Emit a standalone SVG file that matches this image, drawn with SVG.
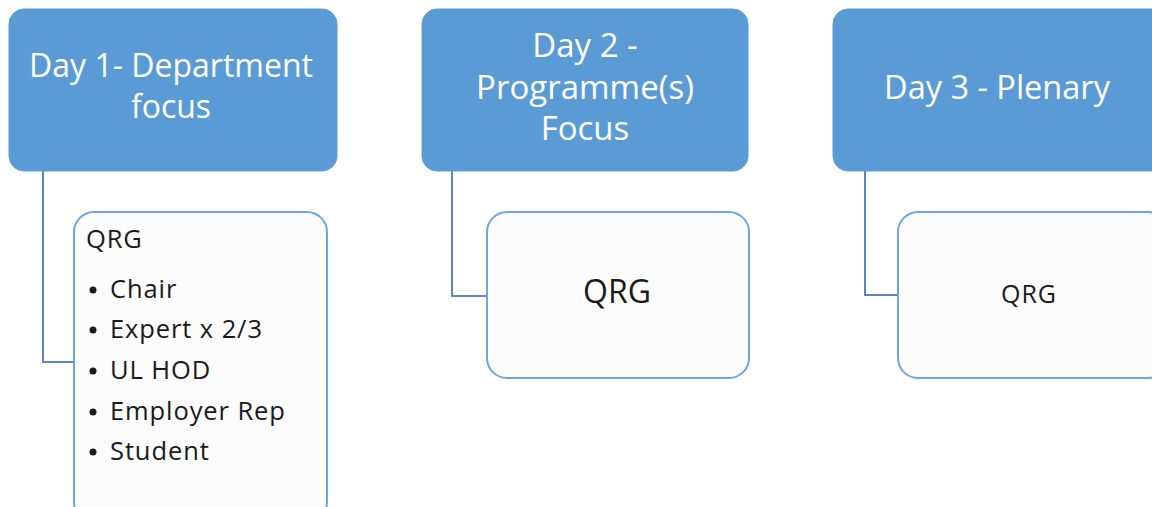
<svg xmlns="http://www.w3.org/2000/svg" width="1152" height="507" viewBox="0 0 1152 507">
<style>
.hdr{fill:#5B9BD5;stroke:#5B9BD5;stroke-width:1}
.child{fill:#FCFCFC;stroke:#6FA6DA;stroke-width:2}
.ht{font-family:"Open Sans","Liberation Sans",sans-serif;fill:#FFFFFF;font-size:33px;text-anchor:middle}
.ct{font-family:"Open Sans","Liberation Sans",sans-serif;fill:#1A1A1A}
.lst{font-size:25.5px;letter-spacing:0.9px}
.conn{fill:none;stroke:#5B87BE;stroke-width:2}
.dot{fill:#1A1A1A}
</style>
<rect width="1152" height="507" fill="#FFFFFF"/>
<g id="connectors">
<path class="conn" d="M43,171 V362 H73"/>
<path class="conn" d="M452,171 V296 H486"/>
<path class="conn" d="M865,171 V295 H897"/>
</g>
<g id="day1">
<rect class="hdr" x="9" y="9" width="328" height="162" rx="15"/>
<text class="ht" x="171" y="77" style="font-size:32px">Day 1- Department</text>
<text class="ht" x="171" y="118" style="font-size:32px">focus</text>
</g>
<g id="day2">
<rect class="hdr" x="422" y="9" width="326" height="162" rx="15"/>
<text class="ht" x="585" y="57">Day 2 -</text>
<text class="ht" x="585" y="99">Programme(s)</text>
<text class="ht" x="585" y="140">Focus</text>
</g>
<g id="day3">
<rect class="hdr" x="833" y="9" width="340" height="162" rx="15"/>
<text class="ht" x="997" y="99" style="font-size:32.5px">Day 3 - Plenary</text>
</g>
<g id="qrg1">
<rect class="child" x="74" y="212" width="253" height="310" rx="20"/>
<g class="ct lst">
<text x="86" y="248">QRG</text>
<circle class="dot" cx="93" cy="290" r="3.5"/>
<text x="110" y="298">Chair</text>
<circle class="dot" cx="93" cy="330" r="3.5"/>
<text x="110" y="338">Expert x 2/3</text>
<circle class="dot" cx="93" cy="371" r="3.5"/>
<text x="110" y="379">UL HOD</text>
<circle class="dot" cx="93" cy="412" r="3.5"/>
<text x="110" y="420">Employer Rep</text>
<circle class="dot" cx="93" cy="452" r="3.5"/>
<text x="110" y="460">Student</text>
</g>
</g>
<g id="qrg2">
<rect class="child" x="487" y="212" width="262" height="166" rx="20"/>
<text class="ct" x="617" y="303" font-size="32" text-anchor="middle">QRG</text>
</g>
<g id="qrg3">
<rect class="child" x="898" y="212" width="270" height="166" rx="20"/>
<text class="ct" x="1029" y="303" text-anchor="middle" style="font-size:25px;letter-spacing:1px">QRG</text>
</g>
</svg>
